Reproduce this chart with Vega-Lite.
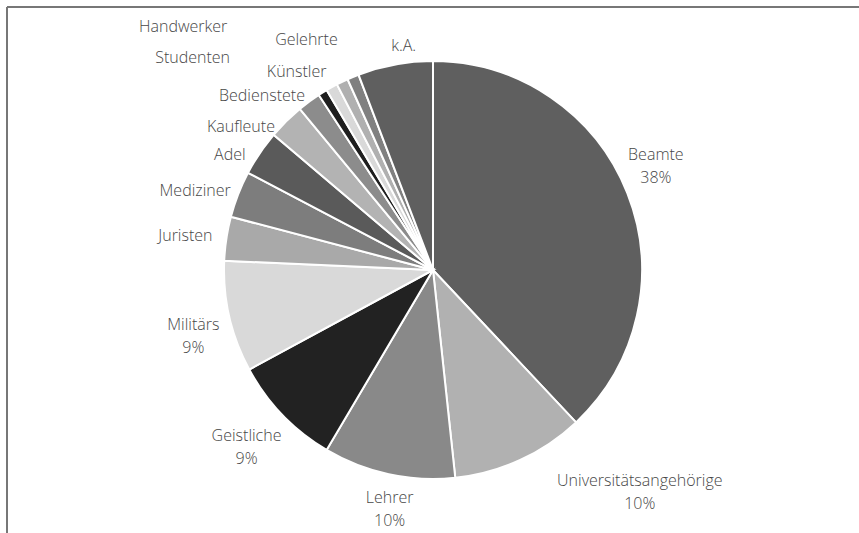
{
  "$schema": "https://vega.github.io/schema/vega-lite/v6.json",
  "width": 852,
  "height": 526,
  "autosize": {"type": "none"},
  "padding": {"left": 7, "top": 7, "right": 0, "bottom": 0},
  "background": "white",
  "view": {"stroke": "#777777", "strokeWidth": 2, "strokeDash": [852, 1378, 526, 0]},
  "config": {
    "text": {"font": "Open Sans", "fontSize": 16, "fontWeight": 300, "fill": "#474747"}
  },
  "data": {
    "values": [
      {"cat": "Beamte", "v": 38.0},
      {"cat": "Universitätsangehörige", "v": 10.3},
      {"cat": "Lehrer", "v": 10.2},
      {"cat": "Geistliche", "v": 8.6},
      {"cat": "Militärs", "v": 8.6},
      {"cat": "Juristen", "v": 3.4},
      {"cat": "Mediziner", "v": 3.6},
      {"cat": "Adel", "v": 3.5},
      {"cat": "Kaufleute", "v": 2.8},
      {"cat": "Bedienstete", "v": 1.8},
      {"cat": "Studenten", "v": 0.7},
      {"cat": "Handwerker", "v": 0.9},
      {"cat": "Künstler", "v": 0.9},
      {"cat": "Gelehrte", "v": 0.9},
      {"cat": "k.A.", "v": 5.8}
    ]
  },
  "transform": [
    {"window": [{"op": "row_number", "as": "idx"}]},
    {"stack": "v", "groupby": [], "sort": [{"field": "idx", "order": "ascending"}], "as": ["v0", "v1"]},
    {"calculate": "(datum.v0 + datum.v1) / 2", "as": "mid"},
    {"calculate": "datum.v >= 8 ? datum.cat + '\\n' + format(datum.v / 100, '.0%') : datum.cat", "as": "label"}
  ],
  "layer": [
    {
      "mark": {"type": "arc", "radius": 209, "stroke": "white", "strokeWidth": 2},
      "encoding": {
        "theta": {"field": "v0", "type": "quantitative", "stack": null, "scale": {"domain": [0, 100]}},
        "theta2": {"field": "v1"},
        "color": {
          "field": "cat",
          "type": "nominal",
          "legend": null,
          "scale": {
            "domain": ["Beamte", "Universitätsangehörige", "Lehrer", "Geistliche", "Militärs", "Juristen", "Mediziner", "Adel", "Kaufleute", "Bedienstete", "Studenten", "Handwerker", "Künstler", "Gelehrte", "k.A."],
            "range": ["#5f5f5f", "#b1b1b1", "#898989", "#222222", "#d9d9d9", "#a9a9a9", "#7d7d7d", "#5a5a5a", "#b3b3b3", "#8c8c8c", "#1e1e1e", "#d9d9d9", "#b0b0b0", "#808080", "#5f5f5f"]
          }
        }
      }
    },
    {
      "transform": [{"filter": "indexof(['Beamte','Lehrer','Geistliche','Militärs','k.A.'], datum.cat) >= 0"}],
      "mark": {
        "type": "text",
        "align": "center",
        "baseline": "middle",
        "lineBreak": "\n",
        "lineHeight": 23,
        "radius": {"expr": "datum.cat === 'Beamte' ? 244 : datum.cat === 'Lehrer' ? 233 : datum.cat === 'Geistliche' ? 245 : datum.cat === 'Militärs' ? 247 : 228"},
        "dx": {"expr": "datum.cat === 'Beamte' ? -4 : datum.cat === 'Lehrer' ? 6 : datum.cat === 'Geistliche' ? -10 : datum.cat === 'k.A.' ? 12 : 1"},
        "dy": {"expr": "datum.cat === 'Beamte' ? -25 : datum.cat === 'Geistliche' ? -4 : 0"}
      },
      "encoding": {
        "theta": {"field": "mid", "type": "quantitative", "stack": null, "scale": {"domain": [0, 100]}},
        "text": {"field": "label"}
      }
    },
    {
      "transform": [{"filter": "datum.cat === 'Universitätsangehörige'"}],
      "mark": {
        "type": "text",
        "align": "center",
        "baseline": "middle",
        "lineBreak": "\n",
        "lineHeight": 23,
        "radius": 232,
        "dx": 110
      },
      "encoding": {
        "theta": {"field": "mid", "type": "quantitative", "stack": null, "scale": {"domain": [0, 100]}},
        "text": {"field": "label"}
      }
    },
    {
      "transform": [{"filter": "indexof(['Juristen','Mediziner','Adel','Kaufleute','Bedienstete','Studenten','Handwerker','Künstler','Gelehrte'], datum.cat) >= 0"}],
      "mark": {
        "type": "text",
        "align": "right",
        "baseline": "middle",
        "radius": {"expr": "datum.cat === 'Juristen' ? 223 : datum.cat === 'Mediziner' ? 217 : datum.cat === 'Adel' ? 220 : datum.cat === 'Kaufleute' ? 215 : datum.cat === 'Bedienstete' ? 216 : datum.cat === 'Studenten' ? 250 : datum.cat === 'Handwerker' ? 278 : datum.cat === 'Künstler' ? 220 : 249"},
        "dx": {"expr": "datum.cat === 'Studenten' || datum.cat === 'Handwerker' ? -71 : datum.cat === 'Kaufleute' ? -7 : datum.cat === 'Adel' ? -5 : datum.cat === 'Künstler' ? -11 : 0"},
        "dy": {"expr": "datum.cat === 'Kaufleute' ? 10 : datum.cat === 'Adel' ? 8 : 0"}
      },
      "encoding": {
        "theta": {"field": "mid", "type": "quantitative", "stack": null, "scale": {"domain": [0, 100]}},
        "text": {"field": "label"}
      }
    }
  ]
}
